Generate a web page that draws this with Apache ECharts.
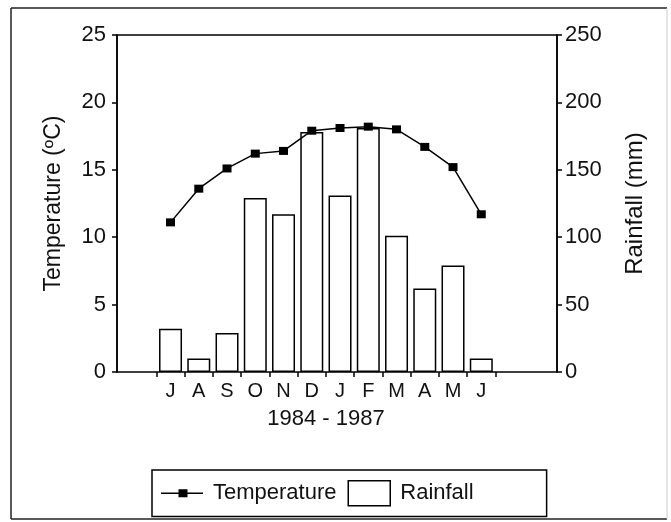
<!DOCTYPE html>
<html>
<head>
<meta charset="utf-8">
<script src="https://cdn.jsdelivr.net/npm/echarts@6/dist/echarts.min.js"></script>
<style>
html,body{margin:0;padding:0;background:#fff;}
#chart{width:671px;height:522px;}
</style>
</head>
<body>
<div id="chart"></div>
<script>
var months = ['J','A','S','O','N','D','J','F','M','A','M','J'];
var temperature = [11.1, 13.6, 15.1, 16.2, 16.4, 17.9, 18.1, 18.2, 18.0, 16.7, 15.2, 11.7];
var rainfall = [32, 10, 29, 129, 117, 178, 131, 181, 101, 62, 79, 10];
var tempTicks = {min: 0, max: 25, interval: 5};
var rainTicks = {min: 0, max: 250, interval: 50};

var FONT = '"Liberation Sans", Arial, Helvetica, sans-serif';
var INK = '#111';

var chart = echarts.init(document.getElementById('chart'), null, {renderer: 'canvas'});

var gridTop = 35, gridBottom = 150;

chart.setOption({
  animation: false,
  backgroundColor: '#fff',
  textStyle: {fontFamily: FONT, color: INK},
  graphic: [
    {type: 'line', shape: {x1: 11, y1: 8, x2: 667, y2: 8}, style: {stroke: '#222', lineWidth: 1.5}},
    {type: 'line', shape: {x1: 11, y1: 8, x2: 11, y2: 519}, style: {stroke: '#222', lineWidth: 1.5}},
    {type: 'line', shape: {x1: 11, y1: 519, x2: 667, y2: 519}, style: {stroke: '#222', lineWidth: 1.5}},
    {type: 'line', shape: {x1: 667, y1: 8, x2: 667, y2: 519}, style: {stroke: '#ccc', lineWidth: 1}}
  ],
  grid: [
    {left: 117, right: 114, top: gridTop, bottom: gridBottom, show: true, borderColor: '#000', borderWidth: 1.5, backgroundColor: 'transparent'},
    {left: 156.4, right: 175.6, top: gridTop, bottom: gridBottom}
  ],
  legend: {
    left: 152, top: 470,
    orient: 'horizontal',
    padding: [10, 73, 10, 9],
    borderColor: '#000', borderWidth: 1.5,
    itemGap: 11,
    itemWidth: 42, itemHeight: 25,
    selectedMode: false,
    textStyle: {fontFamily: FONT, fontSize: 22, color: INK, padding: [0, 0, 0, 5]},
    data: [
      {name: 'Temperature',
       icon: 'path://M0,0h0.01v0.01h-0.01Z M0,11.7h42v1.6h-42Z M17.5,8.5h9v8h-9Z M41.99,24.99h0.01v0.01h-0.01Z',
       itemStyle: {color: '#000', borderWidth: 0}},
      {name: 'Rainfall', icon: 'rect',
       itemStyle: {color: '#fff', borderColor: '#000', borderWidth: 1.5}}
    ]
  },
  xAxis: [
    {type: 'value', gridIndex: 0, min: 0, max: 1, show: false},
    {type: 'category', gridIndex: 1, data: months, boundaryGap: true,
     axisLine: {show: false},
     axisTick: {show: true, inside: false, length: 5, lineStyle: {color: '#000', width: 1.5}},
     axisLabel: {fontFamily: FONT, fontSize: 20, color: INK, margin: 9, interval: 0},
     name: '1984 - 1987', nameLocation: 'middle', nameGap: 36,
     nameTextStyle: {fontFamily: FONT, fontSize: 22, color: INK},
     splitLine: {show: false}}
  ],
  yAxis: [
    {type: 'value', gridIndex: 0, position: 'left', min: tempTicks.min, max: tempTicks.max, interval: tempTicks.interval,
     axisLine: {show: true, lineStyle: {color: '#000', width: 1.5}},
     axisTick: {show: true, inside: false, length: 5, lineStyle: {color: '#000', width: 1.5}},
     axisLabel: {fontFamily: FONT, fontSize: 22, color: INK, margin: 11},
     splitLine: {show: false},
     name: 'Temperature (\u00BAC)', nameLocation: 'middle', nameGap: 52, nameRotate: 90,
     nameTextStyle: {fontFamily: FONT, fontSize: 23, color: INK}},
    {type: 'value', gridIndex: 0, position: 'right', min: rainTicks.min, max: rainTicks.max, interval: rainTicks.interval,
     axisLine: {show: true, lineStyle: {color: '#000', width: 1.5}},
     axisTick: {show: true, inside: false, length: 5, lineStyle: {color: '#000', width: 1.5}},
     axisLabel: {fontFamily: FONT, fontSize: 22, color: INK, margin: 8},
     splitLine: {show: false},
     name: 'Rainfall (mm)', nameLocation: 'middle', nameGap: 66, nameRotate: 90,
     nameTextStyle: {fontFamily: FONT, fontSize: 24, color: INK}},
    {type: 'value', gridIndex: 1, min: tempTicks.min, max: tempTicks.max, show: false, splitLine: {show: false}},
    {type: 'value', gridIndex: 1, min: rainTicks.min, max: rainTicks.max, show: false, splitLine: {show: false}}
  ],
  series: [
    {name: 'Rainfall', type: 'bar', xAxisIndex: 1, yAxisIndex: 3, data: rainfall,
     barWidth: 23,
     itemStyle: {color: '#fff', borderColor: '#000', borderWidth: 1.5},
     z: 2},
    {name: 'Temperature', type: 'line', xAxisIndex: 1, yAxisIndex: 2, data: temperature,
     symbol: 'rect', symbolSize: [9, 8], showSymbol: true,
     lineStyle: {color: '#000', width: 1.5},
     itemStyle: {color: '#000', borderWidth: 0},
     z: 3}
  ]
});
</script>
</body>
</html>
